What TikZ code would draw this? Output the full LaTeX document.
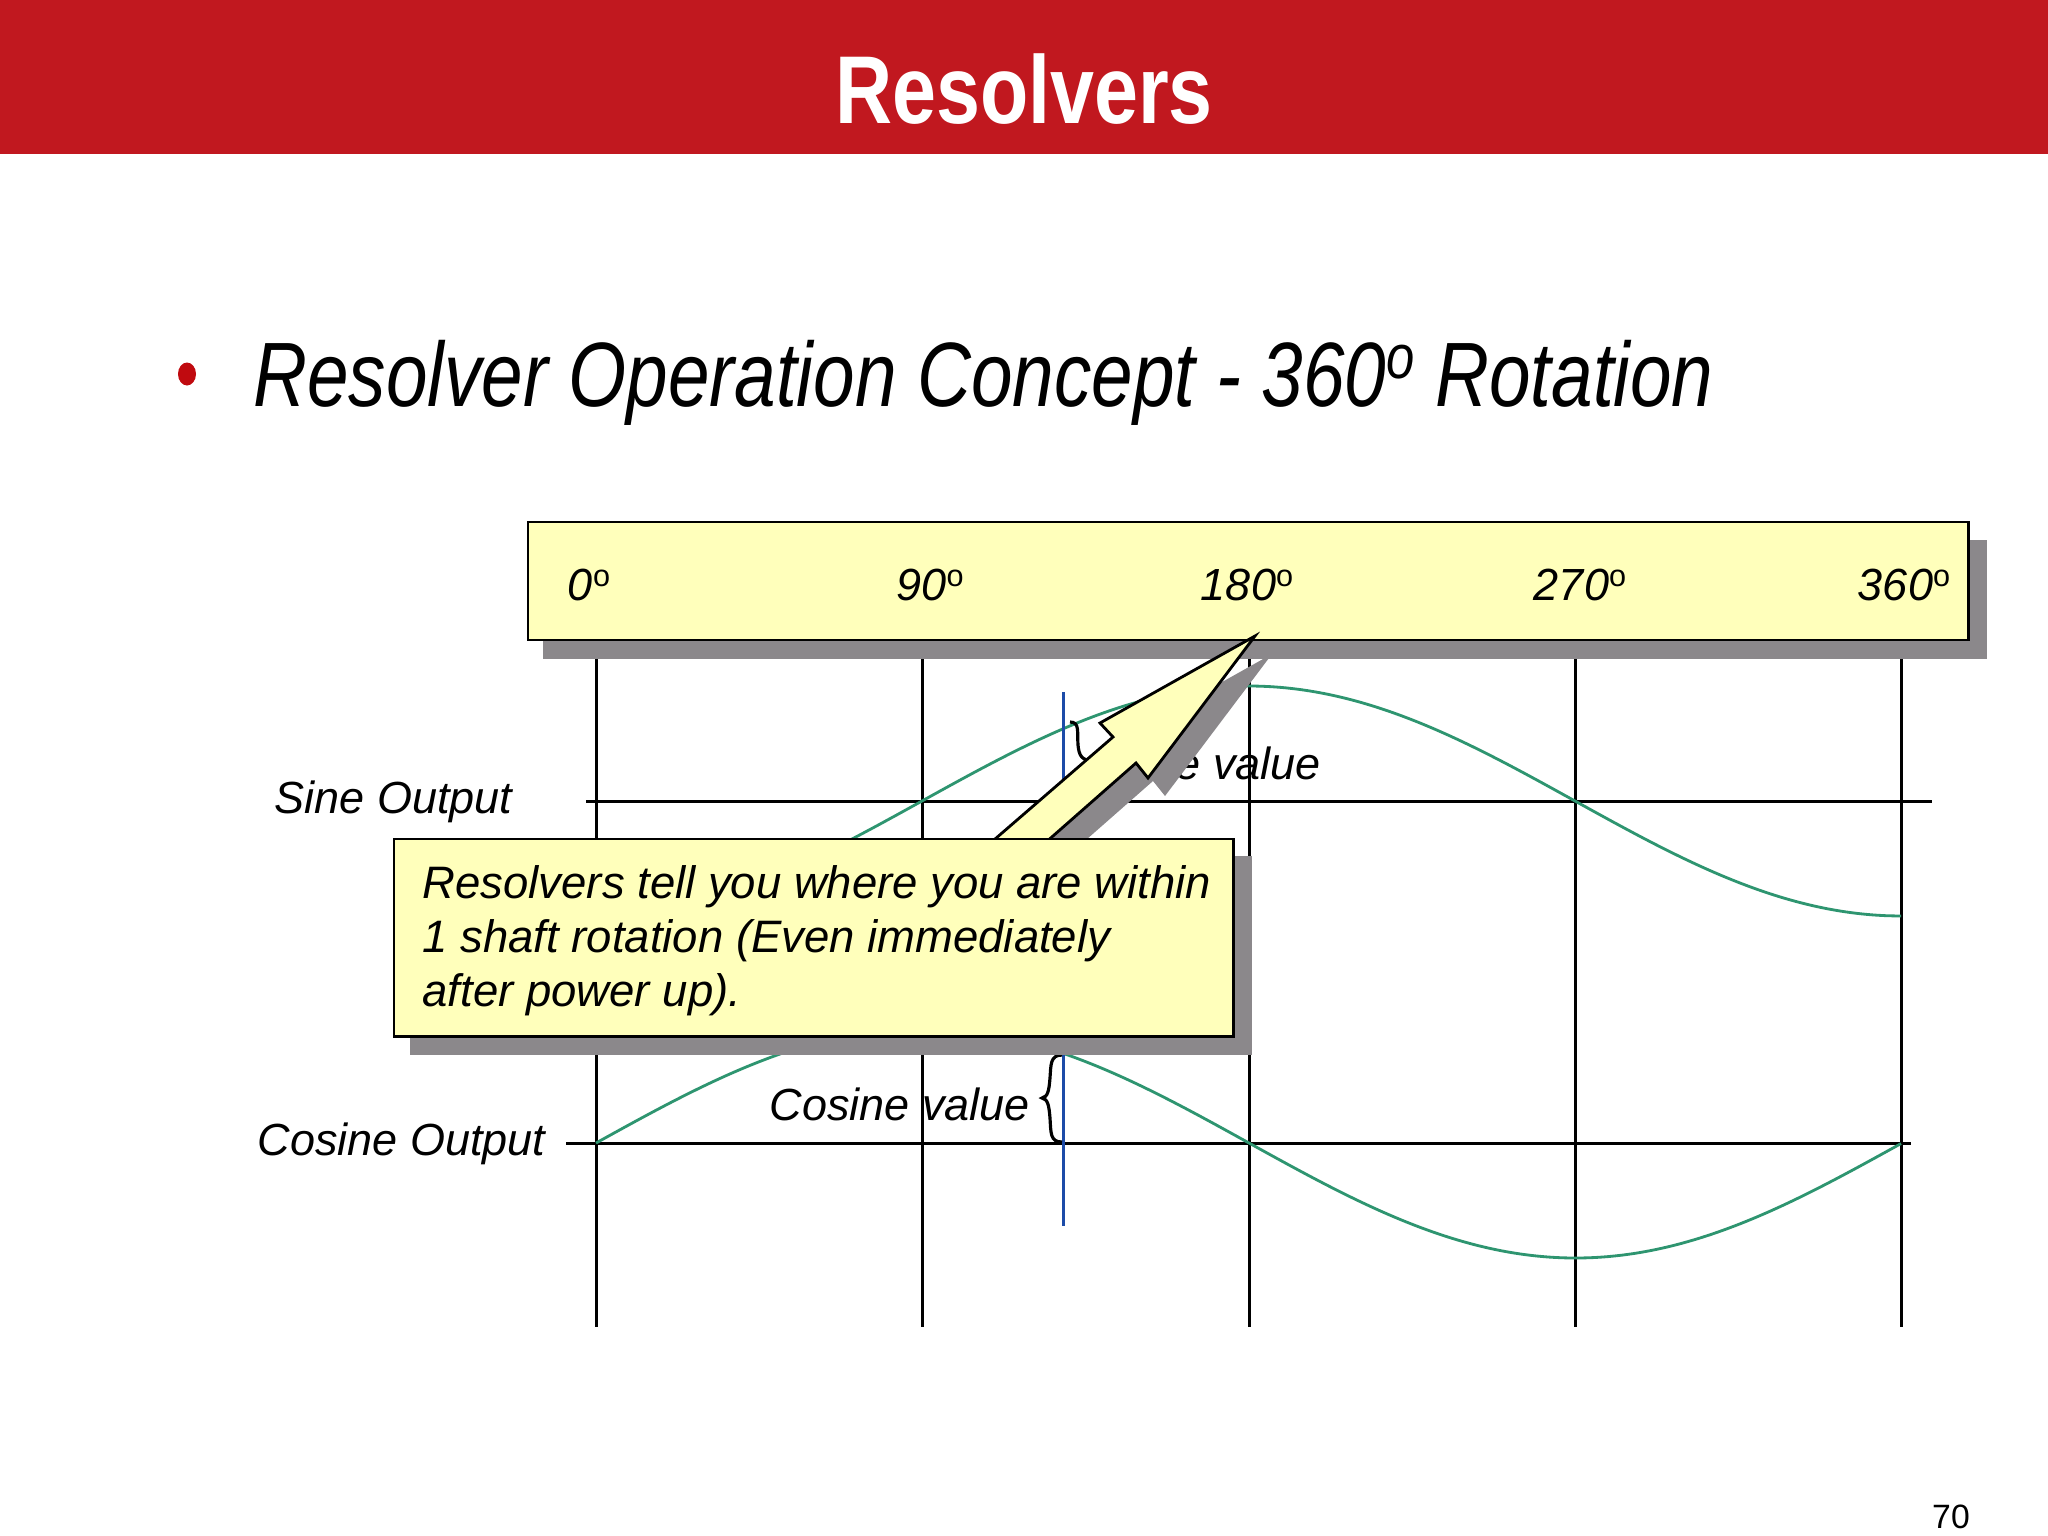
\documentclass[tikz,border=0pt]{standalone}
\usepackage{fontspec}
\setmainfont{Liberation Sans}
\usetikzlibrary{shapes.geometric}
\definecolor{barred}{HTML}{C1181F}
\definecolor{bulletred}{HTML}{C00A0F}
\definecolor{noteyellow}{HTML}{FFFFBB}
\definecolor{shadowgray}{HTML}{8B888B}
\definecolor{wavegreen}{HTML}{2E9570}
\definecolor{cursorblue}{HTML}{1C4BA8}
\newcommand{\calloutarrow}{(1255,636) -- (1148,778) -- (1136,763) -- (1020,865) -- (965,865) -- (1113,737) -- (1100,723) -- cycle}
\newcommand{\degmark}{\raisebox{.3em}{\scalebox{.68}{o}}}
\tikzset{
    lbl/.style={anchor=base west, inner sep=0pt, font=\fontsize{12.8}{15}\selectfont\itshape},
    notelbl/.style={anchor=base west, inner sep=0pt, font=\fontsize{12.93}{15}\selectfont\itshape},
    deg/.style={anchor=base, inner sep=0pt, font=\fontsize{12.8}{15}\selectfont\itshape},
    notebox/.style={draw=black, line width=0.8pt, fill=noteyellow, outer sep=0pt, inner sep=0pt},
    gridline/.style={black, line width=0.85pt},
    wave/.style={wavegreen, line width=0.8pt},
    bracket/.style={black, line width=0.9pt},
}

\begin{document}
\begin{tikzpicture}[x=0.01cm, y=-0.01cm]
    \useasboundingbox (0,0) rectangle (2048,1536);
    \fill[white] (0,0) rectangle (2048,1536);
    \fill[barred] (0,0) rectangle (2048,154);
    \node (title) at (1024,123) [anchor=base, inner sep=0pt, text=white, xscale=0.82, font=\fontsize{27.4}{30}\selectfont\bfseries] {Resolvers};
    \node (bullet) at (187,374) [ellipse, fill=bulletred, inner sep=0pt, minimum width=18*0.01cm, minimum height=23*0.01cm] {};
    \node (heading) at (253,406) [anchor=base west, inner sep=0pt, xscale=0.8165, font=\fontsize{26}{30}\selectfont\itshape] {Resolver Operation Concept - 360\degmark\ Rotation};
    \node (page) at (1951,1528) [anchor=base, inner sep=0pt, font=\fontsize{9.6}{12}\selectfont] {70};
    % grid
    \foreach \x in {596,922,1249,1575,1901}
        \draw[gridline] (\x,650) -- (\x,1327);
    \draw[gridline] (586,801) -- (1932,801);
    \draw[gridline] (566,1143) -- (1911,1143);
    \draw[wave] plot[domain=596:1901, samples=90, smooth] (\x, {801-115*sin((\x-922)/653*180)});
    \draw[wave] plot[domain=596:1901, samples=90, smooth] (\x, {1143-115*sin((\x-596)/653*180)});
    \draw[cursorblue, line width=0.85pt] (1063,692) -- (1063,1226);
    % braces
    \draw[bracket] (1070,722) .. controls (1080,722) and (1077,732) .. (1078,745) .. controls (1079,756) and (1082,760) .. (1092,761) .. controls (1082,762) and (1079,768) .. (1078,778) .. controls (1077,792) and (1080,801) .. (1070,801);
    \draw[bracket] (1062,1055) .. controls (1050,1055) and (1051,1065) .. (1050,1078) .. controls (1049,1090) and (1048,1097) .. (1042,1098) .. controls (1048,1099) and (1049,1106) .. (1050,1118) .. controls (1051,1133) and (1050,1142) .. (1062,1142);
    % labels
    \node (sinelbl) at (274,813) [lbl] {Sine Output};
    \node (coslbl) at (257,1155) [lbl] {Cosine Output};
    \node (sineval) at (1110,779) [lbl] {Sine value};
    \node (cosval) at (769,1120) [lbl] {Cosine value};
    % degree bar
    \fill[shadowgray] (543,540) rectangle (1987,659);
    \node (degbar) at (528,522) [notebox, anchor=north west, minimum width=14.4cm, minimum height=1.18cm] {};
    \node (d0) at (589,600) [deg] {0{\upshape\degmark}};
    \node (d90) at (930,600) [deg] {90{\upshape\degmark}};
    \node (d180) at (1247,600) [deg] {180{\upshape\degmark}};
    \node (d270) at (1580,600) [deg] {270{\upshape\degmark}};
    \node (d360) at (1904,600) [deg] {360{\upshape\degmark}};
    % callout
    \fill[shadowgray, shift={(17,18)}] \calloutarrow;
    \draw[notebox] \calloutarrow;
    \fill[shadowgray] (410,856) rectangle (1252,1055);
    \node (note) at (394,839) [notebox, anchor=north west, minimum width=8.39cm, minimum height=1.97cm] {};
    \node (note1) at (422,898) [notelbl] {Resolvers tell you where you are within};
    \node (note2) at (422,952) [notelbl] {1 shaft rotation (Even immediately};
    \node (note3) at (422,1006) [notelbl] {after power up).};
\end{tikzpicture}
\end{document}
